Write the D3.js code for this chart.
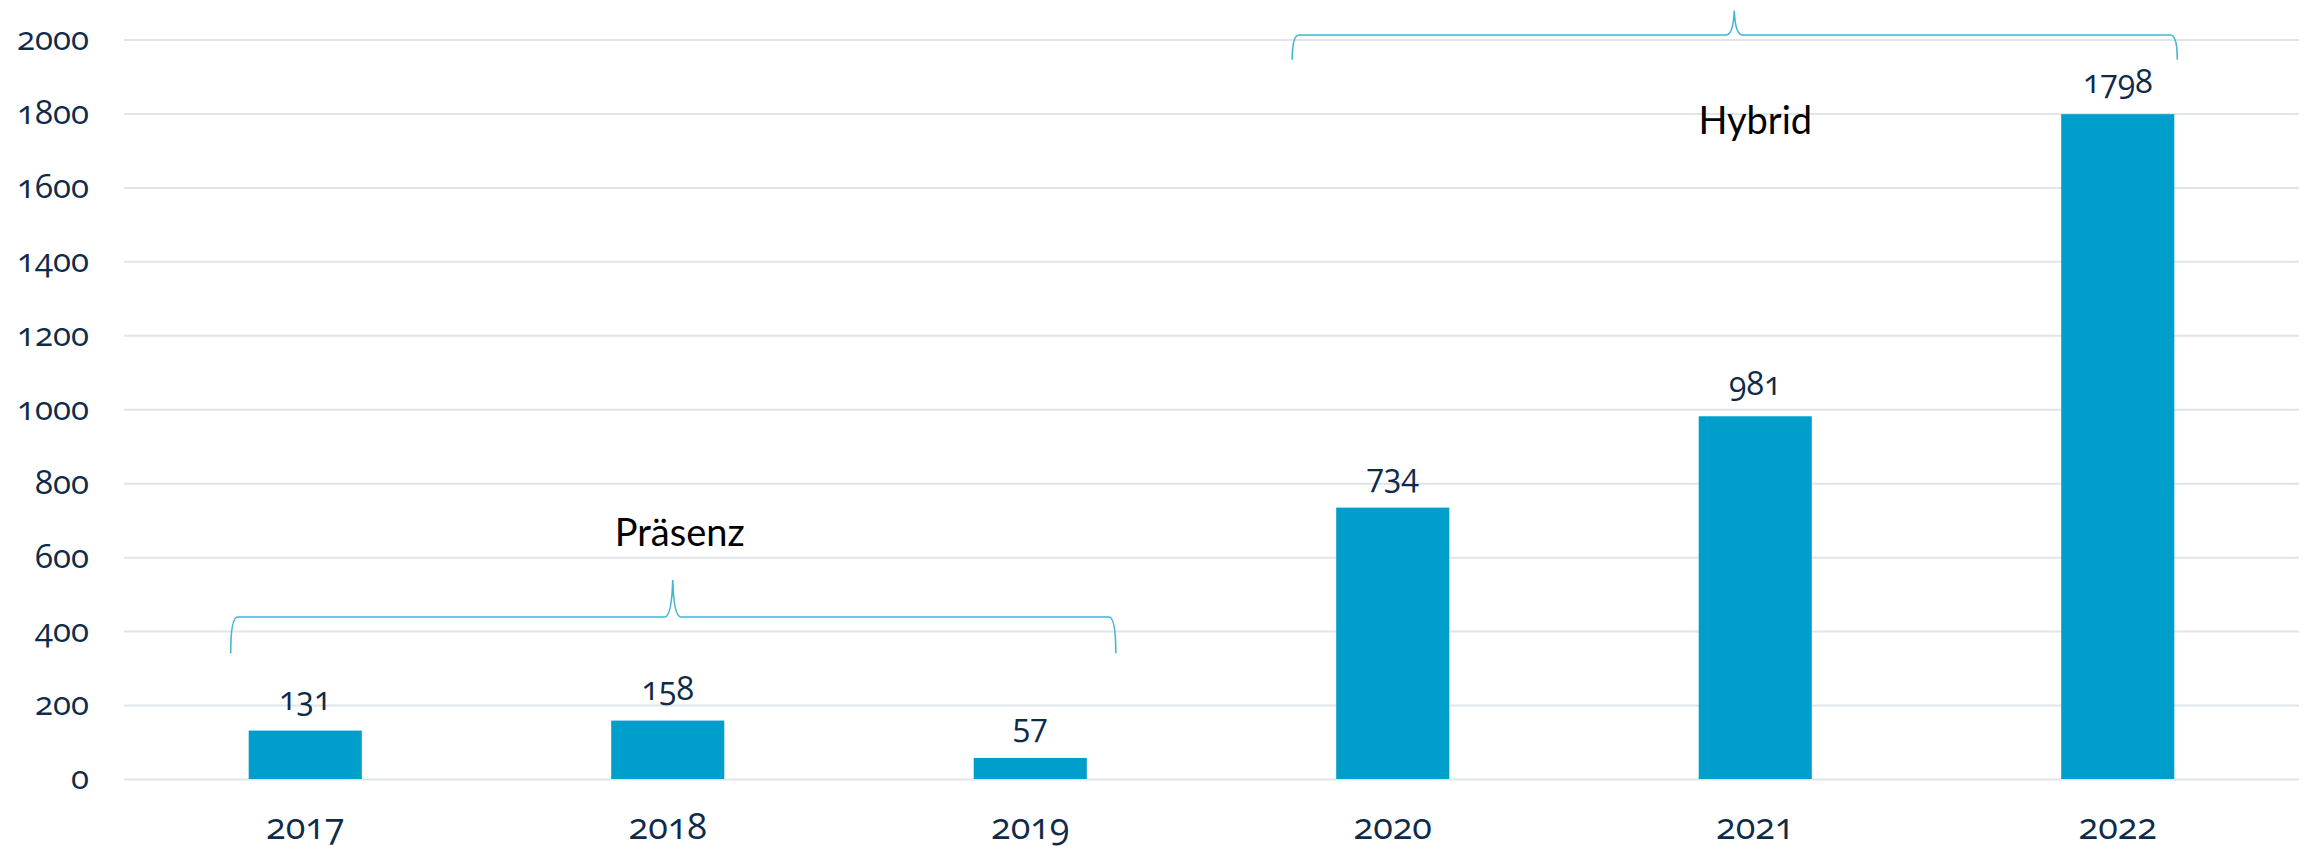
<!DOCTYPE html>
<html>
<head>
<meta charset="utf-8">
<script src="https://cdn.jsdelivr.net/npm/d3@7"></script>
<style>
  body { margin: 0; background: #fff; }
</style>
</head>
<body>
<div id="chart"></div>
<script>
const years = ['2017', '2018', '2019', '2020', '2021', '2022'];
const counts = [131, 158, 57, 734, 981, 1798];
const yTicks = [0, 200, 400, 600, 800, 1000, 1200, 1400, 1600, 1800, 2000];
const groups = ['Präsenz', 'Hybrid'];
const groupFrom = ['2017', '2020'];
const groupTo = ['2019', '2022'];

const W = 2306, H = 855;
const MARGIN = { TOP: 39.5, BOTTOM: 76, LEFT: 124, RIGHT: 7 };
const NAVY = '#0f2b4a';

const svg = d3.select('#chart').append('svg')
  .attr('width', W)
  .attr('height', H);

const x = d3.scaleBand()
  .domain(years)
  .range([MARGIN.LEFT, W - MARGIN.RIGHT])
  .paddingInner(0.688)
  .paddingOuter(0.344);

const y = d3.scaleLinear()
  .domain([0, 2000])
  .range([H - MARGIN.BOTTOM, MARGIN.TOP]);

function numStyle(sel, size) {
  sel.attr('font-size', size)
    .attr('fill', NAVY)
    .style('font-family', '"Open Sans", sans-serif')
    .style('font-variant-numeric', 'oldstyle-nums');
}

// grid + y labels
const yAxis = svg.append('g')
  .attr('transform', `translate(${MARGIN.LEFT},0)`)
  .call(d3.axisLeft(y).tickValues(yTicks).tickFormat(d3.format('d'))
    .tickSize(-(W - MARGIN.LEFT - MARGIN.RIGHT)).tickPadding(35));
yAxis.select('.domain').remove();
yAxis.selectAll('.tick line').attr('stroke', '#e1e4e8').attr('stroke-width', 2);
yAxis.selectAll('.tick text').call(numStyle, 33).attr('dy', '0.3em');

// x labels
const xAxis = svg.append('g')
  .attr('transform', `translate(0,${H - MARGIN.BOTTOM})`)
  .call(d3.axisBottom(x).tickSize(0).tickPadding(60));
xAxis.select('.domain').remove();
xAxis.selectAll('.tick text').call(numStyle, 36).attr('dy', 0);

// bars
svg.selectAll('rect.bar')
  .data(years)
  .enter().append('rect')
  .attr('class', 'bar')
  .attr('x', d => x(d))
  .attr('y', (d, i) => y(counts[i]))
  .attr('width', x.bandwidth())
  .attr('height', (d, i) => y(0) - y(counts[i]))
  .attr('fill', '#009ecb');

// value labels
svg.selectAll('text.val')
  .data(years)
  .enter().append('text')
  .attr('class', 'val')
  .attr('x', d => x(d) + x.bandwidth() / 2)
  .attr('y', (d, i) => y(counts[i]) - 21)
  .attr('text-anchor', 'middle')
  .call(numStyle, 32)
  .text((d, i) => counts[i]);

// braces
const braceSpec = [
  { left: -18, right: 29, peakShift: 5, line: 438, end: 340, peak: 538, label: 635, labelShift: 12 },
  { left: -44, right: 3, peakShift: -21, line: 2012, end: 1945, peak: 2078, label: 1749, labelShift: 0 }
];

function bracePath(x0, x1, xp, yl, ye, yp) {
  const c = 7, r = 8;
  return `M${x0},${ye} Q${x0},${yl} ${x0 + c},${yl} L${xp - r},${yl}` +
    ` Q${xp - 1},${yl - 1} ${xp},${yp} Q${xp + 1},${yl - 1} ${xp + r},${yl}` +
    ` L${x1 - c},${yl} Q${x1},${yl} ${x1},${ye}`;
}

groups.forEach((g, i) => {
  const s = braceSpec[i];
  const x0 = x(groupFrom[i]) + s.left;
  const x1 = x(groupTo[i]) + x.bandwidth() + s.right;
  const mid = years[years.indexOf(groupFrom[i]) + 1];
  const xm = x(mid) + x.bandwidth() / 2;
  svg.append('path')
    .attr('d', bracePath(x0, x1, xm + s.peakShift, y(s.line), y(s.end), y(s.peak)))
    .attr('fill', 'none')
    .attr('stroke', '#42b4d8')
    .attr('stroke-width', 1.6);
  svg.append('text')
    .attr('x', xm + s.labelShift)
    .attr('y', y(s.label) + 2)
    .attr('text-anchor', 'middle')
    .attr('font-family', 'Lato, sans-serif')
    .attr('font-size', 38)
    .attr('fill', '#000')
    .text(g);
});
</script>
</body>
</html>
